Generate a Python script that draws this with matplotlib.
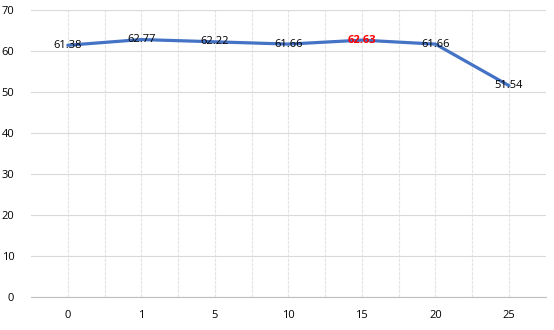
import matplotlib.pyplot as plt
import numpy as np
from matplotlib.ticker import MultipleLocator, FixedLocator

categorias = ['0', '1', '5', '10', '15', '20', '25']
valores = [61.38, 62.77, 62.22, 61.66, 62.63, 61.66, 51.54]
destacado = 4  # etiqueta en rojo

plt.rcParams['font.family'] = ['Open Sans', 'DejaVu Sans']

fig = plt.figure(figsize=(5.54, 3.3), dpi=100)
ax = fig.add_axes([0.056, 0.1, 0.929, 0.87])

x = np.arange(len(categorias))
ax.plot(x, valores, color='#4472C4', lw=2.3, solid_capstyle='round', zorder=3)

for i, (xi, v) in enumerate(zip(x, valores)):
    if i == destacado:
        ax.text(xi, v, '{:.2f}'.format(v), ha='center', va='center', fontsize=8,
                color='#FF0000', fontweight='bold', zorder=4)
    else:
        ax.text(xi, v, '{:.2f}'.format(v), ha='center', va='center', fontsize=8,
                color='black', zorder=4)

ax.set_xlim(-0.5, len(categorias) - 0.5)
ax.set_ylim(0, 70)
ax.yaxis.set_major_locator(MultipleLocator(10))
ax.set_xticks(x)
ax.set_xticklabels(categorias)
ax.xaxis.set_minor_locator(FixedLocator(x[:-1] + 0.5))

ax.grid(axis='y', color='#D9D9D9', lw=0.8)
ax.grid(axis='x', which='major', color='#E3E3E3', lw=0.8, ls=(0, (3, 1)))
ax.grid(axis='x', which='minor', color='#E3E3E3', lw=0.8, ls=(0, (3, 1)))
ax.set_axisbelow(True)

for s in ['left', 'top', 'right']:
    ax.spines[s].set_visible(False)
ax.spines['bottom'].set_color('#BFBFBF')
ax.tick_params(axis='both', which='both', length=0, labelsize=8, colors='black')
ax.tick_params(axis='x', pad=9)
ax.tick_params(axis='y', pad=12)

fig.savefig('out.png', dpi=100)
